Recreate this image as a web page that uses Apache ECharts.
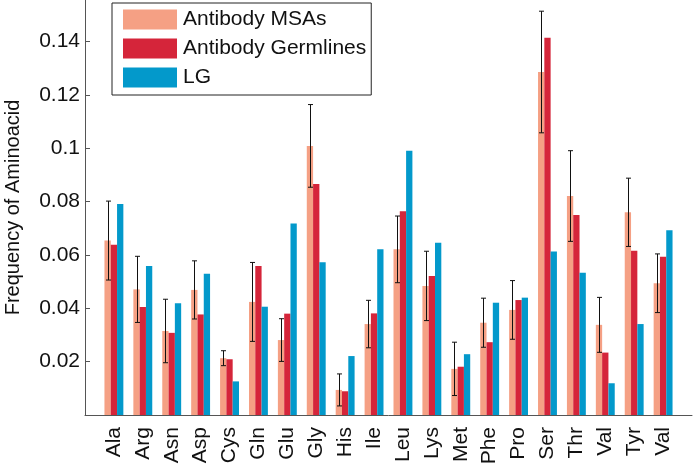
<!DOCTYPE html>
<html>
<head>
<meta charset="utf-8">
<style>
  html, body { margin: 0; padding: 0; background: #fff; }
  #chart { width: 695px; height: 465px; }
</style>
<script src="https://cdn.jsdelivr.net/npm/echarts@6/dist/echarts.min.js"></script>
</head>
<body>
<div id="chart"></div>
<script>
// amino acids, in the order they appear on the x axis
const aminoAcids = ['Ala', 'Arg', 'Asn', 'Asp', 'Cys', 'Gln', 'Glu', 'Gly', 'His', 'Ile',
  'Leu', 'Lys', 'Met', 'Phe', 'Pro', 'Ser', 'Thr', 'Val', 'Tyr', 'Val']

const msaFreq = [0.0654, 0.0471, 0.0315, 0.0469, 0.0213, 0.0424, 0.0281, 0.1009, 0.0094, 0.0341,
  0.0621, 0.0484, 0.0173, 0.0346, 0.0394, 0.1286, 0.0821, 0.0338, 0.0760, 0.0494]
// half length of the error bar on the MSA bars
const msaErr = [0.0148, 0.0124, 0.0119, 0.0109, 0.0028, 0.0148, 0.0080, 0.0155, 0.0060, 0.0089,
  0.0125, 0.0130, 0.0100, 0.0092, 0.0110, 0.0228, 0.0170, 0.0103, 0.0128, 0.0110]
const germlineFreq = [0.0638, 0.0405, 0.0308, 0.0377, 0.0209, 0.0559, 0.0380, 0.0866, 0.0089, 0.0381,
  0.0764, 0.0521, 0.0181, 0.0273, 0.0431, 0.1414, 0.0750, 0.0234, 0.0616, 0.0593]
const lgFreq = [0.0791, 0.0559, 0.0419, 0.0530, 0.0126, 0.0406, 0.0718, 0.0573, 0.0221, 0.0621,
  0.0991, 0.0646, 0.0228, 0.0421, 0.0440, 0.0613, 0.0533, 0.0119, 0.0341, 0.0693]

const FONT = '"Liberation Sans", Arial, sans-serif'
const BAR_W = 6.3

const chart = echarts.init(document.getElementById('chart'))

// bars sit at x = 1..20, axis runs 0..21 like the original plot
const toPts = arr => arr.map((v, i) => [i + 1, v])

chart.setOption({
  animation: false,
  grid: { left: 85, right: 3, top: 0, bottom: 50, outerBoundsMode: 'none' },
  legend: {
    orient: 'vertical',
    left: 112,
    top: 3,
    icon: 'rect',
    itemWidth: 54,
    itemHeight: 20,
    itemGap: 8,
    padding: [6, 5, 7, 11],
    borderColor: '#222',
    borderWidth: 1,
    backgroundColor: '#fff',
    textStyle: { fontFamily: FONT, fontSize: 21, color: '#111', padding: [0, 0, 0, 1] },
    data: ['Antibody MSAs', 'Antibody Germlines', 'LG']
  },
  xAxis: {
    type: 'value',
    min: 0,
    max: 21,
    interval: 1,
    splitLine: { show: false },
    axisTick: { show: false },
    axisLine: { lineStyle: { color: '#555', width: 1 } },
    axisLabel: {
      rotate: 90,
      margin: 12,
      fontFamily: FONT,
      fontSize: 21,
      color: '#111',
      formatter: v => aminoAcids[v - 1] || ''
    }
  },
  yAxis: {
    type: 'value',
    min: 0,
    max: 0.1556,
    interval: 0.02,
    name: 'Frequency of Aminoacid',
    nameLocation: 'middle',
    nameGap: 62,
    nameTextStyle: { fontFamily: FONT, fontSize: 20, color: '#111' },
    splitLine: { show: false },
    axisLine: { show: true, lineStyle: { color: '#555', width: 1 } },
    axisTick: { show: true, inside: true, length: 5, lineStyle: { color: '#555' } },
    axisLabel: {
      showMinLabel: false,
      showMaxLabel: false,
      margin: 5,
      fontFamily: FONT,
      fontSize: 21,
      color: '#111'
    }
  },
  series: [
    {
      name: 'Antibody MSAs',
      type: 'bar',
      barWidth: BAR_W,
      barGap: '0%',
      itemStyle: { color: '#F5A084' },
      data: toPts(msaFreq)
    },
    {
      name: 'Antibody Germlines',
      type: 'bar',
      barWidth: BAR_W,
      barGap: '0%',
      itemStyle: { color: '#D5253A' },
      data: toPts(germlineFreq)
    },
    {
      name: 'LG',
      type: 'bar',
      barWidth: BAR_W,
      barGap: '0%',
      itemStyle: { color: '#0399CB' },
      data: toPts(lgFreq)
    },
    {
      // error bars on the MSA bars
      type: 'custom',
      z: 10,
      silent: true,
      data: msaFreq.map((v, i) => [i + 1, v - msaErr[i], v + msaErr[i]]),
      renderItem: (params, api) => {
        const lo = api.coord([api.value(0), api.value(1)])
        const hi = api.coord([api.value(0), api.value(2)])
        const x = Math.round(lo[0] - BAR_W) + 0.5
        const cap = 2.5
        const style = { stroke: '#111', lineWidth: 1 }
        return {
          type: 'group',
          children: [
            { type: 'line', shape: { x1: x, y1: hi[1], x2: x, y2: lo[1] }, style },
            { type: 'line', shape: { x1: x - cap, y1: hi[1], x2: x + cap, y2: hi[1] }, style },
            { type: 'line', shape: { x1: x - cap, y1: lo[1], x2: x + cap, y2: lo[1] }, style }
          ]
        }
      }
    }
  ]
})
</script>
</body>
</html>
